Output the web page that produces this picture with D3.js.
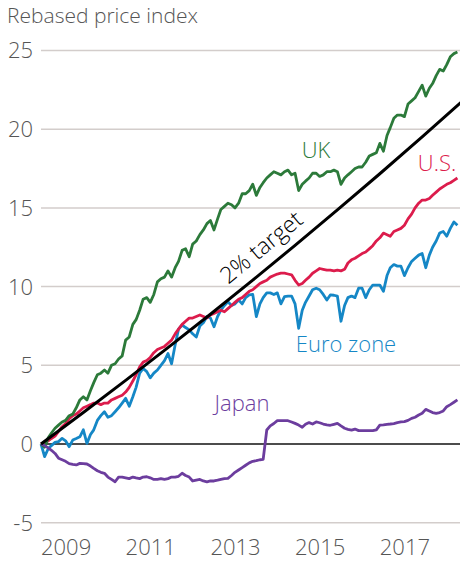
<!DOCTYPE html>
<html>
<head>
<meta charset="utf-8">
<script src="https://cdn.jsdelivr.net/npm/d3@7"></script>
<style>
  body { margin: 0; background: #fff; }
  svg text { font-family: "Open Sans", "Noto Sans", sans-serif; font-weight: 300; }
</style>
</head>
<body>
<svg width="460" height="562"></svg>
<script>
// monthly values, Dec 2008 = 0 (rebased)
var ukVals = [0.0,-0.2,0.4,0.7,1.0,1.2,1.4,1.5,1.8,1.9,2.3,2.8,3.0,2.8,3.4,3.9,4.4,4.5,4.7,4.5,5.0,5.1,5.4,5.6,
  6.6,6.8,7.6,7.9,8.5,9.2,9.3,9.0,9.5,10.3,10.5,10.6,11.0,10.6,11.2,11.6,12.3,12.4,11.9,12.7,12.9,13.3,13.6,14.0,
  14.2,13.6,14.3,14.9,15.1,15.3,15.2,15.0,15.3,15.9,15.9,16.1,16.5,15.8,16.3,16.6,16.9,17.1,17.3,17.2,17.1,17.3,17.4,17.1,
  17.2,16.1,16.5,16.7,16.9,17.2,17.2,17.0,17.1,17.3,17.3,17.4,17.3,16.5,16.9,17.1,17.3,17.5,17.6,17.6,17.9,18.3,18.4,18.5,
  19.1,18.6,19.6,20.1,20.7,20.9,20.9,20.8,21.6,21.8,22.0,22.4,22.8,22.1,22.6,22.9,23.4,23.8,23.7,24.1,24.6,24.8,24.9];

var usVals = [0.0,0.1,0.2,0.35,0.5,0.8,1.1,1.3,1.6,1.8,1.9,2.1,2.3,2.4,2.5,2.6,2.6,2.5,2.6,2.6,2.8,2.9,3.0,3.1,
  3.3,3.6,4.0,4.4,4.9,5.2,5.3,5.5,5.8,6.0,6.1,6.2,6.4,6.6,7.0,7.3,7.6,7.8,8.0,8.0,8.1,8.2,8.1,8.0,
  8.2,8.3,8.4,8.5,8.4,8.6,8.8,9.0,9.2,9.3,9.5,9.7,9.8,10.0,10.2,10.3,10.4,10.6,10.7,10.8,10.85,10.85,10.8,10.75,
  10.4,10.1,10.2,10.4,10.6,10.85,11.0,11.15,11.1,11.05,11.05,11.0,11.05,11.0,11.1,11.5,11.7,11.8,11.95,12.1,12.2,12.4,12.6,12.9,
  13.1,13.4,13.3,13.2,13.5,13.6,13.7,13.9,14.3,14.6,15.0,15.3,15.5,15.5,15.6,15.8,16.0,16.2,16.35,16.5,16.6,16.75,16.9];

var euroVals = [0.0,-0.8,-0.3,-0.1,0.1,0.15,0.36,0.2,-0.17,0.25,0.35,0.46,0.9,0.04,0.6,0.9,1.5,1.8,2.05,1.7,1.8,2.05,2.3,2.6,
  2.9,2.4,3.0,3.6,4.5,4.8,4.6,4.2,4.5,4.7,5.0,5.3,5.75,5.1,6.3,7.3,7.56,7.4,7.25,7.0,6.8,7.5,7.7,8.1,
  8.0,7.45,8.1,8.5,8.8,9.04,8.8,8.9,9.15,8.9,9.3,9.47,9.5,8.1,8.9,9.3,9.6,9.6,9.5,9.6,8.9,9.36,9.4,9.4,
  8.9,7.35,8.5,9.0,9.4,9.8,9.9,9.8,9.5,9.15,9.47,9.45,9.4,7.8,8.8,9.3,9.4,9.3,9.9,9.9,9.3,9.8,10.1,10.1,
  10.1,9.7,10.7,11.2,11.4,11.3,11.3,10.7,11.2,11.6,11.8,12.0,12.1,11.2,12.0,12.5,12.9,13.4,13.5,13.2,13.7,14.1,13.9];

var japanVals = [0.0,-0.1,-0.25,-0.4,-0.6,-0.9,-1.0,-1.1,-1.25,-1.3,-1.33,-1.23,-1.25,-1.27,-1.4,-1.55,-1.7,-1.8,-1.86,-2.1,-2.25,-2.4,-2.1,-2.1,
  -2.15,-2.2,-2.1,-2.15,-2.2,-2.1,-2.08,-2.15,-2.25,-2.25,-2.2,-2.25,-2.2,-2.1,-2.1,-2.05,-1.86,-2.0,-2.1,-2.35,-2.3,-2.25,-2.35,-2.4,
  -2.35,-2.35,-2.3,-2.25,-2.2,-2.18,-2.0,-1.8,-1.65,-1.5,-1.35,-1.2,-1.1,-1.06,-1.0,-0.97,0.89,1.15,1.3,1.48,1.48,1.48,1.48,1.4,
  1.31,1.2,1.06,1.25,1.36,1.27,1.4,1.35,1.27,1.22,1.19,1.25,1.31,1.15,1.0,0.93,0.88,0.95,0.85,0.85,0.85,0.85,0.85,0.9,
  1.2,1.22,1.25,1.27,1.3,1.36,1.4,1.42,1.5,1.63,1.7,1.84,1.95,2.2,2.1,2.0,1.95,2.0,2.1,2.37,2.5,2.65,2.8];

// 2% target path, read at each December
var targetVals = [0, 2.0, 4.04, 6.12, 8.24, 10.41, 12.62, 14.87, 17.17, 19.51, 21.9];

var yTicks = [-5, 0, 5, 10, 15, 20, 25];
var xLabelYears = [2009, 2011, 2013, 2015, 2017];

var series = [
  {name: "Euro zone", vals: euroVals, color: "#1587c6", lx: 346, ly: 352},
  {name: "U.S.", vals: usVals, color: "#dc1c4c", lx: 437, ly: 171},
  {name: "UK", vals: ukVals, color: "#2c7a3a", lx: 316, ly: 158},
  {name: "Japan", vals: japanVals, color: "#6c3d9e", lx: 242, ly: 411}
];

function monthDate(i) { return new Date(2008, 11 + i, 1); }

var svg = d3.select("svg");

var x = d3.scaleTime()
  .domain([new Date(2008, 11, 1), new Date(2018, 10, 1)])
  .range([41, 461]);

var y = d3.scaleLinear()
  .domain([-5, 25])
  .range([522.7, 50.5]);

// title
svg.append("text")
  .attr("x", 7)
  .attr("y", 23)
  .attr("font-size", 21)
  .attr("fill", "#555")
  .text("Rebased price index");

// gridlines
svg.append("g").selectAll("line")
  .data(yTicks.filter(function(d) { return d !== 0; }))
  .enter().append("line")
  .attr("x1", 41).attr("x2", 460)
  .attr("y1", function(d) { return y(d); })
  .attr("y2", function(d) { return y(d); })
  .attr("stroke", "#d3cdcb")
  .attr("stroke-width", 1.5);

// y labels
svg.append("g").selectAll("text")
  .data(yTicks)
  .enter().append("text")
  .attr("x", 33)
  .attr("y", function(d) { return y(d); })
  .attr("dy", "0.36em")
  .attr("text-anchor", "end")
  .attr("font-size", 22)
  .attr("fill", "#555")
  .text(function(d) { return d; });

// x labels centred on mid year
var xAxis = d3.axisBottom(x)
  .tickValues(xLabelYears.map(function(yr) { return new Date(yr, 6, 1); }))
  .tickFormat(d3.timeFormat("%Y"))
  .tickSize(0);

var gx = svg.append("g")
  .attr("transform", "translate(0,536)")
  .call(xAxis);
gx.select(".domain").remove();
gx.selectAll("text")
  .attr("font-size", 22)
  .attr("fill", "#555")
  .attr("font-family", "Open Sans, Noto Sans, sans-serif")
  .attr("font-weight", 300);

// zero line
svg.append("line")
  .attr("x1", 41).attr("x2", 460)
  .attr("y1", y(0)).attr("y2", y(0))
  .attr("stroke", "#111")
  .attr("stroke-width", 1.5);

var line = d3.line()
  .x(function(d, i) { return x(monthDate(i)); })
  .y(function(d) { return y(d); });

series.forEach(function(s) {
  svg.append("path")
    .datum(s.vals)
    .attr("fill", "none")
    .attr("stroke", s.color)
    .attr("stroke-width", 2.8)
    .attr("stroke-linejoin", "round")
    .attr("d", line);

  svg.append("text")
    .attr("x", s.lx)
    .attr("y", s.ly)
    .attr("text-anchor", "middle")
    .attr("font-size", 22)
    .attr("fill", s.color)
    .text(s.name);
});

// target line
var targetLine = d3.line()
  .x(function(d, i) { return x(monthDate(i * 12)); })
  .y(function(d) { return y(d); });

svg.append("clipPath").attr("id", "clip")
  .append("rect").attr("x", 0).attr("y", 0).attr("width", 460).attr("height", 562);

svg.append("path")
  .datum(targetVals)
  .attr("clip-path", "url(#clip)")
  .attr("fill", "none")
  .attr("stroke", "#000")
  .attr("stroke-width", 3)
  .attr("d", targetLine);

// label along target line (between Dec 2013 and Dec 2014)
var p0 = [x(monthDate(60)), y(targetVals[5])],
    p1 = [x(monthDate(72)), y(targetVals[6])];
var ang = Math.atan2(p1[1] - p0[1], p1[0] - p0[0]) * 180 / Math.PI;
var tx = p0[0] + (p1[0] - p0[0]) * 0.5,
    ty = p0[1] + (p1[1] - p0[1]) * 0.5;

svg.append("text")
  .attr("transform", "translate(" + tx + "," + ty + ") rotate(" + ang + ")")
  .attr("x", 0)
  .attr("y", -12)
  .attr("text-anchor", "middle")
  .attr("font-size", 23)
  .attr("fill", "#000")
  .text("2% target");
</script>
</body>
</html>
